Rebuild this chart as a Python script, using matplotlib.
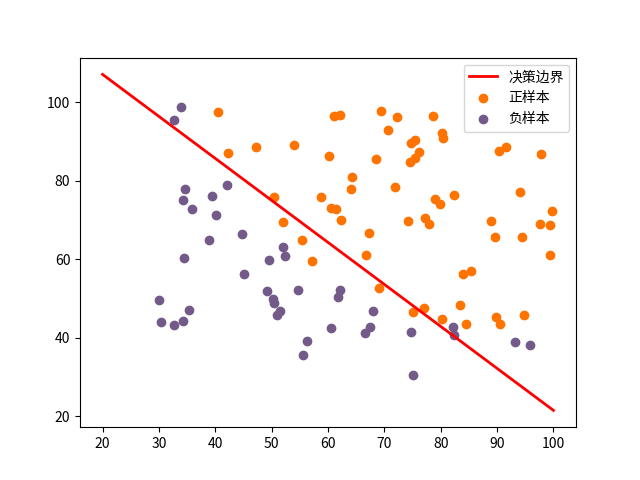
import matplotlib
matplotlib.use("Agg")
import matplotlib.pyplot as plt
import numpy as np

plt.rcParams['font.family'] = ['Noto Sans CJK SC', 'DejaVu Sans']
plt.rcParams['axes.unicode_minus'] = False

pos_x1 = [60.2, 79.0, 61.1, 75.0, 76.1, 84.4, 82.3, 69.4, 54.0, 69.1, 70.7, 77.0, 89.7, 77.9, 62.3, 80.2,
          61.4, 85.4, 52.0, 64.2, 83.9, 94.4, 77.2, 97.8, 62.1, 91.6, 79.9, 99.3, 90.5, 97.6, 74.2, 71.8,
          75.4, 40.5, 80.3, 66.7, 64.0, 72.3, 60.5, 58.8, 99.8, 47.3, 50.5, 88.9, 94.8, 67.3, 57.2, 80.4,
          68.5, 75.5, 78.6, 94.1, 90.4, 74.5, 89.8, 83.5, 42.3, 99.3, 55.3, 74.8]
pos_x2 = [86.3, 75.3, 96.5, 46.6, 87.4, 43.5, 76.5, 97.7, 89.2, 52.7, 92.9, 47.6, 65.8, 69.0, 70.0, 44.8,
          72.8, 57.1, 69.4, 80.9, 56.3, 65.6, 70.5, 86.7, 96.8, 88.7, 74.2, 61.0, 43.4, 68.9, 69.8, 78.5,
          85.8, 97.5, 92.1, 61.0, 78.0, 96.2, 73.1, 75.9, 72.4, 88.5, 75.8, 69.8, 45.7, 66.6, 59.5, 91.0,
          85.6, 90.4, 96.6, 77.2, 87.5, 84.8, 45.4, 48.4, 87.1, 68.8, 64.9, 89.5]
neg_x1 = [34.6, 30.3, 35.8, 45.1, 95.9, 75.0, 39.5, 67.9, 67.4, 50.5, 34.2, 93.1, 61.8, 38.8, 52.1, 40.2,
          54.6, 33.9, 74.8, 34.2, 51.5, 82.4, 51.0, 62.2, 34.5, 50.3, 49.6, 32.6, 35.3, 56.3, 30.1, 44.7,
          66.6, 49.1, 32.7, 60.5, 82.2, 42.1, 52.3, 55.5]
neg_x2 = [78.0, 43.9, 72.9, 56.3, 38.2, 30.6, 76.0, 46.7, 42.8, 48.9, 44.2, 38.8, 50.3, 65.0, 63.1, 71.2,
          52.2, 98.9, 41.6, 75.2, 46.9, 40.6, 45.8, 52.1, 60.4, 49.8, 59.8, 95.6, 47.0, 39.3, 49.6, 66.5,
          41.1, 51.9, 43.3, 42.5, 42.7, 78.8, 60.8, 35.6]

boundary_x = [20, 100]
boundary_y = [107.1, 21.5]

fig, ax = plt.subplots(figsize=(6.4, 4.8), dpi=100)
ax.plot(boundary_x, boundary_y, color='red', linewidth=2, label='决策边界')
ax.scatter(pos_x1, pos_x2, color='#ff7300', label='正样本')
ax.scatter(neg_x1, neg_x2, color='#735a88', label='负样本')
ax.legend(loc='upper right')
fig.savefig('out.png', dpi=100)
